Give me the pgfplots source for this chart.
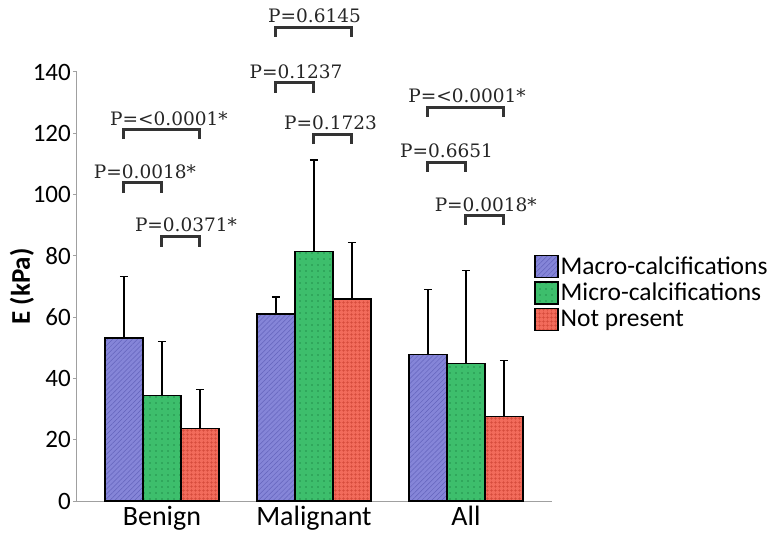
\documentclass[border=0pt]{standalone}
\usepackage{pgfplots}
\pgfplotsset{compat=1.18}
\usepackage{fontspec}
\setmainfont{Carlito}
\newfontfamily\pfont{DejaVu Serif}
\usetikzlibrary{patterns,patterns.meta}
\definecolor{macrofill}{HTML}{8585D8}
\definecolor{macroline}{HTML}{6464BC}
\definecolor{microfill}{HTML}{3DBE6C}
\definecolor{microdot}{HTML}{23914C}
\definecolor{notfill}{HTML}{F26B5B}
\definecolor{notline}{HTML}{D44A3A}
\definecolor{axisgray}{HTML}{A0A0A0}
\definecolor{brk}{HTML}{333333}

\pgfplotstableread{
x  y     e
0  53.2  20.0
1  61.0  5.5
2  47.8  21.3
}\macro
\pgfplotstableread{
x  y     e
0  34.4  17.7
1  81.4  29.8
2  44.9  30.3
}\micro
\pgfplotstableread{
x  y     e
0  23.7  12.7
1  66.0  18.4
2  27.5  18.3
}\notp

\begin{document}
\begin{tikzpicture}
\useasboundingbox (-77pt,-40pt) rectangle (702pt,501pt);
\begin{axis}[
  at={(0,0)}, anchor=south west,
  scale only axis, width=475pt, height=429pt,
  xmin=-0.559, xmax=2.566, ymin=0, ymax=140,
  ybar=0pt, bar width=38pt,
  axis lines*=left,
  axis line style={axisgray, line width=1pt},
  xtick={0,1,2}, xticklabels={Benign,Malignant,All},
  x tick style={draw=none},
  major x tick style={draw=none},
  ytick={0,20,...,140},
  y tick style={axisgray, line width=1pt},
  tick align=outside, major tick length=4pt,
  /pgf/number format/assume math mode=true,
  yticklabel style={font=\fontsize{25}{27}\selectfont, inner sep=2pt},
  xticklabel style={font=\fontsize{28}{30}\selectfont, inner sep=1pt},
  ylabel={\textbf{E (kPa)}},
  every axis y label/.style={at={(rel axis cs:-0.1158,0.5)}, rotate=90, anchor=center,
    font=\fontsize{27}{29}\selectfont},
  clip=false,
  legend style={at={(rel axis cs:0.962,0.575)}, anchor=north west, draw=none, fill=none,
    font=\fontsize{25.5}{27}\selectfont, row sep=3pt, inner sep=0pt,
    nodes={inner sep=2pt}},
  legend cell align=left,
  legend image code/.code={\draw[#1] (0pt,-11pt) rectangle (23pt,11pt);},
  error bars/y dir=plus, error bars/y explicit,
  error bars/error bar style={black, line width=1.5pt},
  error bars/error mark options={rotate=90, mark size=4pt, line width=1.5pt, black},
]
\addplot[draw=black, line width=1.5pt, fill=macrofill,
  postaction={pattern={Lines[angle=45, distance=3.5pt, line width=0.5pt]}, pattern color=macroline}]
  table[x=x, y=y, y error=e]{\macro};
\addplot[draw=black, line width=1.5pt, fill=microfill,
  postaction={pattern={Dots[distance=6pt, radius=0.8pt]}, pattern color=microdot}]
  table[x=x, y=y, y error=e]{\micro};
\addplot[draw=black, line width=1.5pt, fill=notfill,
  postaction={pattern={Hatch[distance=4pt, line width=0.5pt]}, pattern color=notline}]
  table[x=x, y=y, y error=e]{\notp};
\legend{Macro-calcifications, Micro-calcifications, Not present}

% significance brackets
\begin{scope}[brk, line width=3pt]
\draw (axis cs:-0.25,100.5) -- (axis cs:-0.25,103.8) -- (axis cs:0,103.8) -- (axis cs:0,100.5);
\draw (axis cs:-0.25,118.1) -- (axis cs:-0.25,121.1) -- (axis cs:0.25,121.1) -- (axis cs:0.25,118.1);
\draw (axis cs:0,83.0) -- (axis cs:0,86.3) -- (axis cs:0.25,86.3) -- (axis cs:0.25,83.0);
\draw (axis cs:0.75,151.5) -- (axis cs:0.75,154.5) -- (axis cs:1.25,154.5) -- (axis cs:1.25,151.5);
\draw (axis cs:0.75,133.3) -- (axis cs:0.75,136.5) -- (axis cs:1.0,136.5) -- (axis cs:1.0,133.3);
\draw (axis cs:1.0,116.5) -- (axis cs:1.0,119.6) -- (axis cs:1.25,119.6) -- (axis cs:1.25,116.5);
\draw (axis cs:1.75,125.4) -- (axis cs:1.75,128.4) -- (axis cs:2.25,128.4) -- (axis cs:2.25,125.4);
\draw (axis cs:1.75,107.5) -- (axis cs:1.75,110.5) -- (axis cs:2.0,110.5) -- (axis cs:2.0,107.5);
\draw (axis cs:2.0,90.1) -- (axis cs:2.0,93.1) -- (axis cs:2.25,93.1) -- (axis cs:2.25,90.1);
\end{scope}
\begin{scope}[every node/.style={font=\pfont\fontsize{18.5}{20}\selectfont, anchor=base, inner sep=0pt, text=black!85}]
\node at (axis cs:-0.112,105.3) {P=0.0018*};
\node at (axis cs:0.046,122.6) {P=<0.0001*};
\node at (axis cs:0.158,87.8) {P=0.0371*};
\node at (axis cs:1.004,156.0) {P=0.6145};
\node at (axis cs:0.882,138.0) {P=0.1237};
\node at (axis cs:1.109,121.1) {P=0.1723};
\node at (axis cs:2.007,129.9) {P=<0.0001*};
\node at (axis cs:1.872,112.0) {P=0.6651};
\node at (axis cs:2.13,94.6) {P=0.0018*};
\end{scope}
\end{axis}
\end{tikzpicture}
\end{document}
